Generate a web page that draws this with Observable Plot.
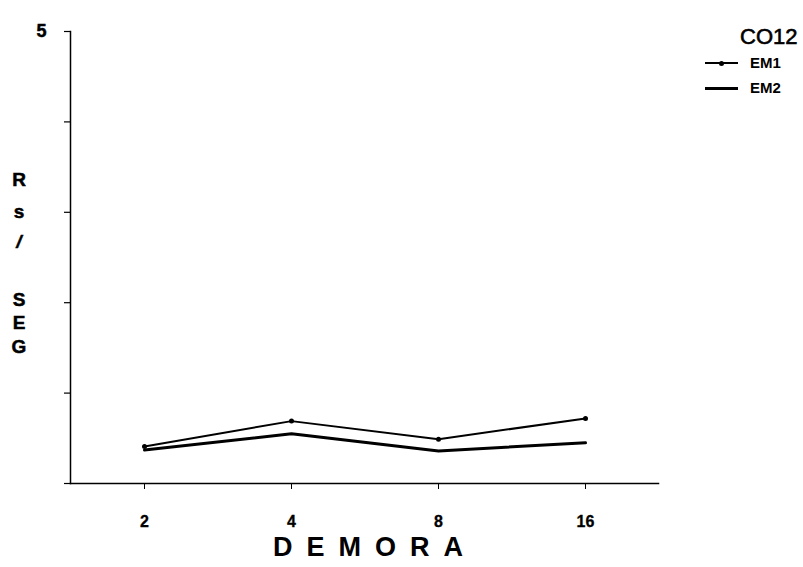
<!DOCTYPE html>
<html><head><meta charset="utf-8">
<script src="https://cdn.jsdelivr.net/npm/d3@7"></script>
<script src="https://cdn.jsdelivr.net/npm/@observablehq/plot@0.6"></script>
<style>
body{margin:0;background:#fff;font-family:"Liberation Sans",Arial,sans-serif;}
#wrap{position:relative;width:803px;height:567px;}
.lab{position:absolute;font-weight:bold;color:#000;white-space:nowrap;}
#wrap svg g[aria-label="y-axis tick label"] text{font-size:18px;font-weight:900;stroke:#000;stroke-width:0.5px;}
#wrap svg g[aria-label="x-axis tick label"] text{font-size:16px;font-weight:900;stroke:#000;stroke-width:0.3px;}
</style></head><body>
<div id="wrap"></div>
<script>
const delays = ["2","4","8","16"];
const em1 = [0.41, 0.69, 0.49, 0.72];
const em2 = [0.37, 0.55, 0.36, 0.45];
const yTicks = [0,1,2,3,4,5];
const yLabelLetters = ["R","s","/","S","E","G"];
const seriesNames = ["EM1","EM2"];
const legendTitle = "CO12";
const xTitle = "DEMORA";

const rows = [];
delays.forEach((d,i)=>{rows.push({x:d,y:em1[i],s:"EM1"});rows.push({x:d,y:em2[i],s:"EM2"});});

const chart = Plot.plot({
  width:803, height:567,
  marginLeft:70, marginRight:145, marginTop:31, marginBottom:84,
  style:{fontFamily:"'Liberation Sans', Arial, sans-serif", background:"#fff", color:"#000", fontSize:"16px"},
  x:{type:"point", domain:delays, padding:0.5},
  y:{domain:[0,5]},
  marks:[
    Plot.frame({anchor:"left", stroke:"#000", strokeWidth:1.5}),
    Plot.frame({anchor:"bottom", stroke:"#000", strokeWidth:1.5}),
    Plot.axisY(yTicks,{tickSize:6, tickPadding:18, tickFormat:d=>d===5?"5":"", fontSize:18, fontWeight:"900", label:null, strokeWidth:1.2}),
    Plot.axisX({tickSize:6, tickPadding:26, fontSize:16, fontWeight:"900", label:null}),
    Plot.line(rows.filter(r=>r.s==="EM1"),{x:"x",y:"y",stroke:"#000",strokeWidth:2}),
    Plot.dot(rows.filter(r=>r.s==="EM1"),{x:"x",y:"y",fill:"#000",r:2.5}),
    Plot.line(rows.filter(r=>r.s==="EM2"),{x:"x",y:"y",stroke:"#000",strokeWidth:3})
  ]
});
const wrap = document.getElementById("wrap");
wrap.appendChild(chart);

// x title
const xt = document.createElement("div");
xt.className="lab"; xt.textContent=xTitle;
Object.assign(xt.style,{left:"273px",top:"532px",fontSize:"27px",letterSpacing:"14px",fontWeight:"bold"});
wrap.appendChild(xt);

// y stacked label
const yPos = [180,212,242,300,323,347];
yLabelLetters.forEach((c,i)=>{
  const e=document.createElement("div"); e.className="lab"; e.textContent=c;
  Object.assign(e.style,{left:"11px",top:(yPos[i]-11)+"px",width:"16px",textAlign:"center",fontSize:"19px",fontWeight:"900",fontStyle:c==="/"?"italic":"normal",WebkitTextStroke:"0.5px #000"});
  wrap.appendChild(e);
});

// legend
const lt=document.createElement("div"); lt.className="lab"; lt.textContent=legendTitle;
Object.assign(lt.style,{left:"740px",top:"24px",fontSize:"22px",fontWeight:"normal",WebkitTextStroke:"0.6px #000"});
wrap.appendChild(lt);
seriesNames.forEach((n,i)=>{
  const y = 63 + i*25;
  const ln=document.createElement("div");
  Object.assign(ln.style,{position:"absolute",left:"705px",top:(y-(i?1.5:1))+"px",width:"33px",height:(i?3:2)+"px",background:"#000"});
  wrap.appendChild(ln);
  if(i===0){const d=document.createElement("div");Object.assign(d.style,{position:"absolute",left:"719px",top:(y-2.5)+"px",width:"5px",height:"5px",borderRadius:"50%",background:"#000"});wrap.appendChild(d);}
  const t=document.createElement("div"); t.className="lab"; t.textContent=n;
  Object.assign(t.style,{left:"750px",top:(y-9)+"px",fontSize:"15px",fontWeight:"900"});
  wrap.appendChild(t);
});
</script>
</body></html>
